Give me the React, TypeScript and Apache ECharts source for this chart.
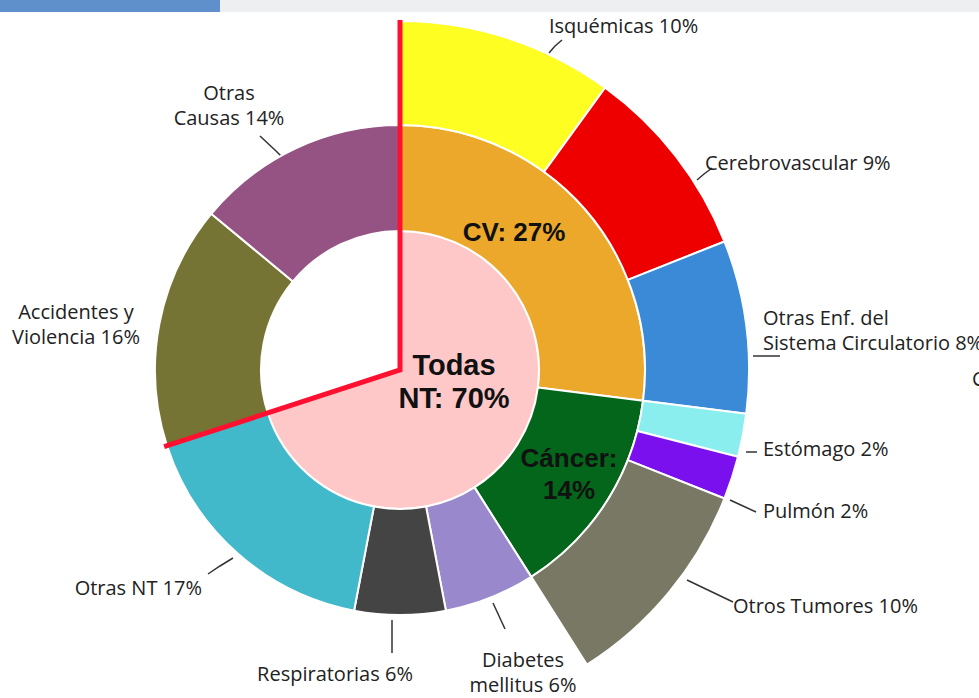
import React, { useEffect, useRef } from 'react';
import * as echarts from 'echarts';

// ---- data ----
const innerNames = ['Todas\nNT', ''];
const innerValues = [70, 30];
const groupNames = ['CV', 'Cáncer', 'Diabetes\nmellitus', 'Respiratorias', 'Otras NT', 'Accidentes y\nViolencia', 'Otras\nCausas'];
const groupValues = [27, 14, 6, 6, 17, 16, 14];
const subNames = ['Isquémicas', 'Cerebrovascular', 'Otras Enf. del\nSistema Circulatorio', 'Estómago', 'Pulmón', 'Otros Tumores'];
const subValues = [10, 9, 8, 2, 2, 10];

// ---- geometry / styles ----
const CX = 400;
const CY = 370;
const R_IN = 139;
const R_MID = 245;
const R_OUT = 349;

const innerColors = ['#fec8c8', 'transparent'];
const groupColors = ['#eca82a', '#03661a', '#9a88cc', '#444444', '#42b9cb', '#767434', '#955384'];
const subColors = ['#fefe22', '#ee0000', '#3a8ad8', '#8aeeee', '#7a10ee', '#787864'];

type LP = { x: number; y: number; align: string; line?: number[][] };

const innerLabelPos: LP[] = [{ x: 454, y: 381, align: 'center' }];
const groupLabelPos: LP[] = [
  { x: 514, y: 232, align: 'center' },
  { x: 569, y: 474, align: 'center' },
  { x: 523, y: 672, align: 'center', line: [[493, 603], [499, 616], [505, 629]] },
  { x: 335, y: 673, align: 'center', line: [[392, 620], [392, 636], [392, 653]] },
  { x: 202, y: 587, align: 'right', line: [[233, 558], [220, 566], [208, 574]] },
  { x: 76, y: 324, align: 'center' },
  { x: 229, y: 105, align: 'center', line: [[292, 167], [276, 151], [260, 136]] },
];
const subLabelPos: LP[] = [
  { x: 549, y: 25, align: 'left', line: [[549, 53], [555, 46], [562, 40]] },
  { x: 705, y: 162, align: 'left', line: [[697, 180], [704, 174], [712, 168]] },
  { x: 763, y: 330, align: 'left', line: [[753, 356], [766, 356], [780, 356]] },
  { x: 763, y: 448, align: 'left', line: [[746, 452], [751, 452], [757, 452]] },
  { x: 763, y: 510, align: 'left', line: [[730, 500], [743, 506], [756, 512]] },
  { x: 733, y: 605, align: 'left', line: [[687, 580], [710, 591], [733, 602]] },
];

const normalLabel = {
  fontFamily: 'Open Sans',
  fontSize: 20,
  lineHeight: 25,
  color: '#222222',
};
const boldLabel = {
  fontFamily: 'Liberation Sans',
  fontWeight: 'bold' as const,
  fontSize: 26,
  lineHeight: 32,
  color: '#111111',
};

function layoutFrom(pos: LP[]) {
  return (params: any) => {
    const p = pos[params.dataIndex];
    if (!p) return {};
    const out: any = { x: p.x, y: p.y, align: p.align, verticalAlign: 'middle' };
    if (p.line) out.labelLinePoints = p.line;
    return out;
  };
}

export default function App() {
  const ref = useRef<HTMLDivElement>(null);

  useEffect(() => {
    if (!ref.current) return;
    const chart = echarts.init(ref.current, undefined, { renderer: 'svg' });

    const restSub = 100 - subValues.reduce((a, b) => a + b, 0);

    const innerData = innerValues.map((v, i) => {
      const blank = innerColors[i] === 'transparent';
      return {
        name: innerNames[i],
        value: v,
        itemStyle: blank
          ? { color: 'transparent', borderWidth: 0 }
          : { color: innerColors[i], borderColor: '#ffffff', borderWidth: 2 },
        label: blank
          ? { show: false }
          : { show: true, position: 'inside', formatter: 'Todas\nNT: {c}%', ...boldLabel, fontSize: 29, lineHeight: 33 },
        labelLine: { show: false },
      };
    });

    const groupData = groupValues.map((v, i) => {
      const inside = i < 2;
      const hasLine = !!groupLabelPos[i].line;
      return {
        name: groupNames[i],
        value: v,
        itemStyle: { color: groupColors[i] },
        label: inside
          ? { show: true, position: 'inside', formatter: i === 0 ? '{b}: {c}%' : '{b}:\n{c}%', ...boldLabel }
          : { show: true, position: 'outside', formatter: '{b} {c}%', ...normalLabel },
        labelLine: { show: !inside && hasLine, lineStyle: { color: '#333333', width: 1.5 } },
      };
    });

    const subData: any[] = subValues.map((v, i) => ({
      name: subNames[i],
      value: v,
      itemStyle: { color: subColors[i] },
      label: { show: true, position: 'outside', formatter: '{b} {c}%', ...normalLabel },
      labelLine: { show: true, lineStyle: { color: '#333333', width: 1.5 } },
    }));
    subData.push({
      name: '',
      value: restSub,
      itemStyle: { color: 'transparent', borderWidth: 0 },
      label: { show: false },
      labelLine: { show: false },
    });

    // red boundary line of the NT share
    const ntShare = innerValues[0] / innerValues.reduce((a, b) => a + b, 0);
    const theta = ntShare * Math.PI * 2;
    const endR = R_MID + 3;
    const redPoints = [
      [CX, CY - R_OUT - 1],
      [CX, CY],
      [CX + endR * Math.sin(theta), CY - endR * Math.cos(theta)],
    ];

    chart.setOption({
      animation: false,
      backgroundColor: '#ffffff',
      series: [
        {
          type: 'pie',
          silent: true,
          center: [CX, CY],
          radius: [0, R_IN],
          startAngle: 90,
          clockwise: true,
          avoidLabelOverlap: false,
          labelLayout: layoutFrom(innerLabelPos),
          data: innerData,
        },
        {
          type: 'pie',
          silent: true,
          center: [CX, CY],
          radius: [R_IN, R_MID],
          startAngle: 90,
          clockwise: true,
          avoidLabelOverlap: false,
          itemStyle: { borderColor: '#ffffff', borderWidth: 2 },
          labelLayout: layoutFrom(groupLabelPos),
          data: groupData,
        },
        {
          type: 'pie',
          silent: true,
          center: [CX, CY],
          radius: [R_MID, R_OUT],
          startAngle: 90,
          clockwise: true,
          avoidLabelOverlap: false,
          itemStyle: { borderColor: '#ffffff', borderWidth: 2 },
          labelLayout: layoutFrom(subLabelPos),
          data: subData,
        },
      ],
      graphic: [
        { type: 'rect', z: 50, shape: { x: 0, y: 0, width: 220, height: 12 }, style: { fill: '#5f90cc' } },
        { type: 'rect', z: 50, shape: { x: 220, y: 0, width: 759, height: 12 }, style: { fill: '#eeeff0' } },
        {
          type: 'polyline',
          z: 100,
          shape: { points: redPoints },
          style: { stroke: '#ff1030', lineWidth: 5, fill: 'none', lineJoin: 'miter' },
        },
        {
          type: 'text',
          z: 100,
          x: 972,
          y: 378,
          style: { text: 'C', fontFamily: 'Open Sans', fontSize: 20, fill: '#222222', verticalAlign: 'middle' },
        },
      ],
    });

    return () => chart.dispose();
  }, []);

  return (
    <div
      ref={ref}
      style={{ position: 'fixed', left: 0, top: 0, width: 979, height: 698, background: '#ffffff' }}
    />
  );
}
